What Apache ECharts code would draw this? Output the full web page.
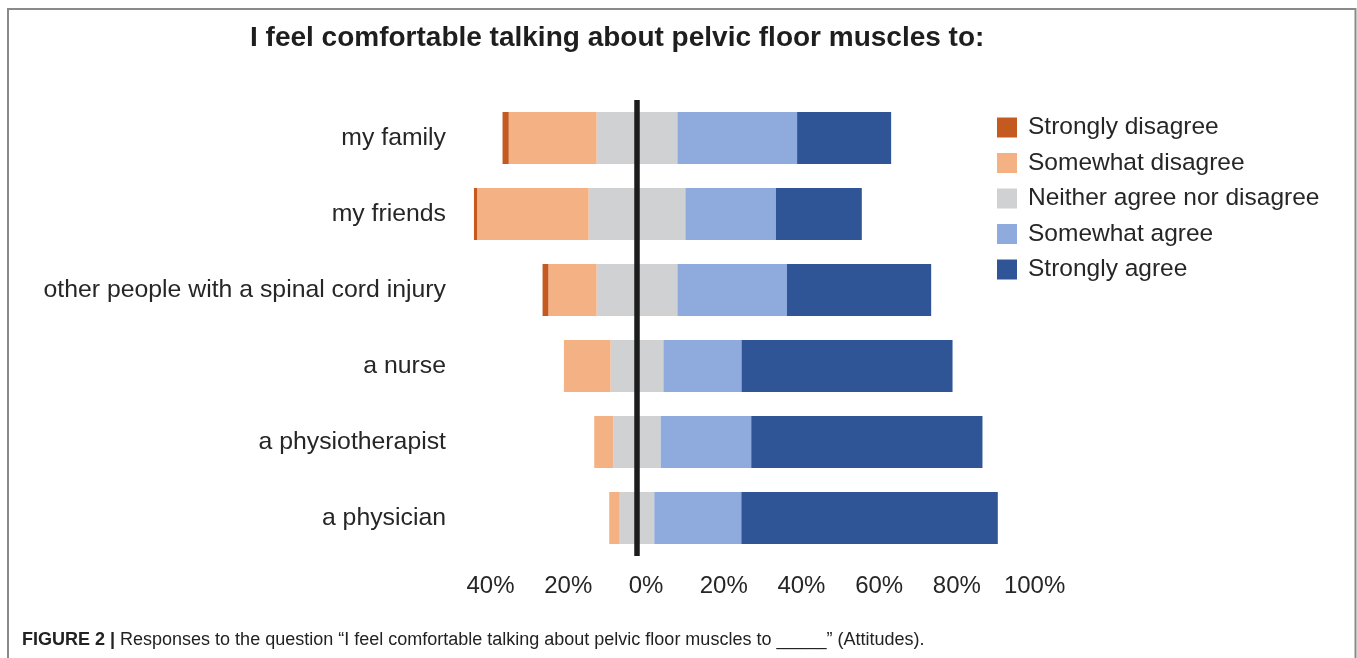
<!DOCTYPE html>
<html>
<head>
<meta charset="utf-8">
<script src="https://cdn.jsdelivr.net/npm/echarts@6/dist/echarts.min.js"></script>
<style>
  html, body { margin: 0; padding: 0; background: #ffffff; }
  #chart { width: 1357px; height: 658px; }
</style>
</head>
<body>
<div id="chart"></div>
<script>
// Survey answers, percent of respondents per recipient group
const categories = [
  'my family',
  'my friends',
  'other people with a spinal cord injury',
  'a nurse',
  'a physiotherapist',
  'a physician'
];
const stronglyDisagree = [1.6, 0.8, 1.5, 0, 0, 0];
const somewhatDisagree = [22.6, 28.7, 12.4, 12.0, 4.9, 2.7];
const neither          = [20.8, 24.9, 20.8, 13.6, 12.2, 8.9];
const somewhatAgree    = [30.8, 23.3, 28.2, 20.1, 23.3, 22.4];
const stronglyAgree    = [24.2, 22.1, 37.1, 54.3, 59.5, 66.0];
const tickValues = [-40, -20, 0, 20, 40, 60, 80, 100];
const legendNames = [
  'Strongly disagree',
  'Somewhat disagree',
  'Neither agree nor disagree',
  'Somewhat agree',
  'Strongly agree'
];

const colors = {
  sd: '#C55A21',
  swd: '#F4B183',
  n: '#D0D1D3',
  sa: '#8FAADC',
  sta: '#2F5597'
};

const FONT = "'Liberation Sans', Arial, sans-serif";
const TEXT = '#262626';
const BAR_W = 52;

const chart = echarts.init(document.getElementById('chart'), null, { renderer: 'canvas' });

// Neutral answers are split around zero; disagreement stacks leftwards, agreement rightwards
function bar(name, values, color, sign, extra) {
  return Object.assign({
    name: name,
    type: 'bar',
    stack: 'likert',
    barWidth: BAR_W,
    silent: true,
    itemStyle: { color: color },
    data: values.map(v => sign * v)
  }, extra || {});
}

const series = [
  bar(legendNames[2], neither.map(v => v / 2), colors.n, -1, {
    markLine: {
      silent: true,
      symbol: ['none', 'none'],
      label: { show: false },
      lineStyle: { color: '#1c1c1c', width: 5.5, type: 'solid' },
      data: [{ xAxis: 0 }]
    }
  }),
  bar(legendNames[1], somewhatDisagree, colors.swd, -1),
  bar(legendNames[0], stronglyDisagree, colors.sd, -1),
  bar(legendNames[2], neither.map(v => v / 2), colors.n, 1),
  bar(legendNames[3], somewhatAgree, colors.sa, 1),
  bar(legendNames[4], stronglyAgree, colors.sta, 1)
];

const option = {
  animation: false,
  backgroundColor: '#ffffff',
  textStyle: { fontFamily: FONT },
  title: {
    text: 'I feel comfortable talking about pelvic floor muscles to:',
    left: 250,
    top: 24,
    padding: 0,
    textStyle: {
      fontFamily: FONT,
      fontSize: 28,
      fontWeight: 'bold',
      color: '#1e1e1e',
      lineHeight: 28
    }
  },
  legend: {
    orient: 'vertical',
    left: 997,
    top: 115,
    padding: 0,
    itemWidth: 20,
    itemHeight: 20,
    itemGap: 10.5,
    icon: 'rect',
    data: legendNames,
    textStyle: {
      fontFamily: FONT,
      fontSize: 24.5,
      color: TEXT,
      padding: [0, 0, 0, 6]
    }
  },
  grid: {
    left: 466,
    right: 331.4,
    top: 100,
    bottom: 102,
    outerBoundsMode: 'none',
    containLabel: false
  },
  xAxis: {
    type: 'value',
    min: -44,
    max: 100,
    axisLine: { show: false },
    axisTick: { show: false },
    splitLine: { show: false },
    axisLabel: {
      customValues: tickValues,
      formatter: v => Math.abs(v) + '%',
      fontFamily: FONT,
      fontSize: 24,
      lineHeight: 24,
      color: TEXT,
      margin: 18.5,
      padding: [0, 0, 0, 18]
    }
  },
  yAxis: {
    type: 'category',
    inverse: true,
    data: categories,
    axisLine: { show: false },
    axisTick: { show: false },
    splitLine: { show: false },
    axisLabel: {
      fontFamily: FONT,
      fontSize: 24.8,
      lineHeight: 26,
      color: TEXT,
      margin: 20,
      padding: [5, 0, 0, 0]
    }
  },
  series: series,
  graphic: [
    {
      type: 'polyline',
      silent: true,
      shape: { points: [[8, 700], [8, 9], [1355.5, 9], [1355.5, 700]] },
      style: { stroke: '#8a8a8a', lineWidth: 2, fill: null }
    },
    {
      type: 'text',
      left: 22,
      top: 631.5,
      silent: true,
      style: {
        text: '{b|FIGURE 2 |} Responses to the question \u201CI feel comfortable talking about pelvic floor muscles to _____\u201D (Attitudes).',
        fontFamily: "'Liberation Sans Narrow', 'Liberation Sans', Arial, sans-serif",
        fontSize: 18,
        fill: '#222222',
        rich: {
          b: {
            fontFamily: "'Liberation Sans Narrow', 'Liberation Sans', Arial, sans-serif",
            fontSize: 18,
            fontWeight: 'bold',
            fill: '#222222'
          }
        }
      }
    }
  ]
};

chart.setOption(option);
</script>
</body>
</html>
